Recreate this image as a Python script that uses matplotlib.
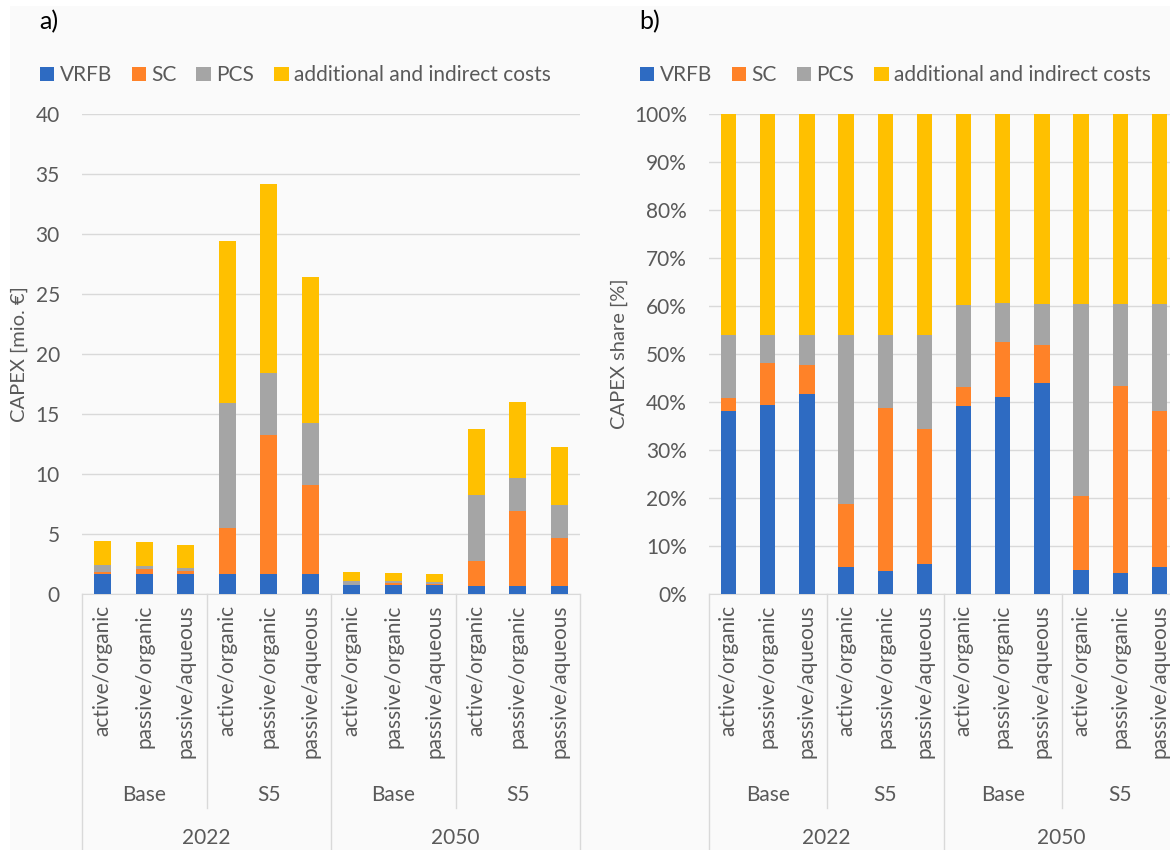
import numpy as np
import matplotlib
matplotlib.use("Agg")
import matplotlib.pyplot as plt
from matplotlib.patches import Patch, Rectangle

plt.rcParams['font.family'] = ['Lato', 'DejaVu Sans']

# CAPEX breakdown in mio. EUR, one entry per configuration
years = ['2022', '2050']
scenarios = ['Base', 'S5']
configs = ['active/organic', 'passive/organic', 'passive/aqueous']

vrfb = [1.69, 1.69, 1.69, 1.66, 1.67, 1.66, 0.71, 0.72, 0.72, 0.70, 0.70, 0.69]
sc = [0.12, 0.38, 0.25, 3.88, 11.58, 7.42, 0.07, 0.20, 0.13, 2.09, 6.23, 3.99]
pcs = [0.59, 0.25, 0.25, 10.36, 5.19, 5.17, 0.31, 0.14, 0.14, 5.50, 2.73, 2.74]
additional = [2.04, 1.98, 1.87, 13.55, 15.70, 12.14, 0.72, 0.69, 0.65, 5.43, 6.34, 4.86]

series_names = ['VRFB', 'SC', 'PCS', 'additional and indirect costs']
colors = ['#2E6BC2', '#FF8228', '#A5A5A5', '#FFC000']

TXT = '#595959'
GRID = '#D9D9D9'
BG = '#FAFAFA'
W, H = 1170, 850

fig = plt.figure(figsize=(W / 100, H / 100), dpi=100)
fig.patch.set_facecolor('white')
fig.patches.append(Rectangle((10 / W, 0), 1, 1 - 6 / H, transform=fig.transFigure,
                             facecolor=BG, edgecolor='none', zorder=-10))


def px_axes(x0, x1, y0, y1):
    # pixel box (top-left origin) -> figure fraction
    return fig.add_axes([x0 / W, 1 - y1 / H, (x1 - x0) / W, (y1 - y0) / H])


def draw_panel(ax, data, width, ymax, yticks, yfmt, ylabel, ylabel_x, leg_x):
    n = len(data[0])
    x = np.arange(n)
    bottom = np.zeros(n)
    for vals, col, name in zip(data, colors, series_names):
        ax.bar(x, vals, width, bottom=bottom, color=col, label=name, zorder=3)
        bottom += np.array(vals)
    ax.set_xlim(-0.5, n - 0.5)
    ax.set_ylim(0, ymax)
    ax.set_yticks(yticks)
    ax.set_yticklabels([yfmt(t) for t in yticks])
    ax.tick_params(axis='y', length=0, labelsize=15, colors=TXT, pad=16)
    ax.set_xticks([])
    ax.set_facecolor(BG)
    for s in ['top', 'right', 'left']:
        ax.spines[s].set_visible(False)
    ax.spines['bottom'].set_color(GRID)
    ax.yaxis.grid(True, color=GRID, lw=1, zorder=0)
    ax.set_ylabel(ylabel, fontsize=14.5, color=TXT)
    ax.yaxis.set_label_coords(ylabel_x, 0.5)

    # multi-level category axis
    tr = ax.get_xaxis_transform()
    h = 480.0

    def fy(py):
        return -(py - 594) / h

    for i in range(n):
        ax.text(x[i], fy(605), configs[i % 3], rotation=90, ha='center', va='top',
                fontsize=15, color=TXT, transform=tr)
    for k in range(4):
        ax.text(3 * k + 1, fy(795), scenarios[k % 2], ha='center', va='center',
                fontsize=15, color=TXT, transform=tr)
    for k in range(2):
        ax.text(6 * k + 2.5, fy(838), years[k], ha='center', va='center',
                fontsize=15, color=TXT, transform=tr)
    for b in [-0.5, 5.5, 11.5]:
        ax.plot([b, b], [0, fy(860)], color=GRID, lw=1, transform=tr, clip_on=False)
    for b in [2.5, 8.5]:
        ax.plot([b, b], [0, fy(808)], color=GRID, lw=1, transform=tr, clip_on=False)

    handles = [Patch(facecolor=c) for c in colors]
    leg = ax.legend(handles, series_names, loc='center left', bbox_to_anchor=(leg_x, 1.081),
                    ncol=4, frameon=False, fontsize=15, handlelength=0.7, handleheight=0.7,
                    handletextpad=0.25, columnspacing=0.95, borderaxespad=0, borderpad=0)
    for t in leg.get_texts():
        t.set_color(TXT)


data = [vrfb, sc, pcs, additional]

ax1 = px_axes(82, 580, 114, 594)
draw_panel(ax1, data, 0.4, 40, list(range(0, 41, 5)), lambda t: f'{t:g}',
           'CAPEX [mio. €]', -0.108, -0.085)

totals = np.sum(data, axis=0)
shares = [np.array(v) / totals for v in data]
ax2 = px_axes(709, 1179, 114, 594)
draw_panel(ax2, shares, 0.39, 1.0, list(np.linspace(0, 1, 11)), lambda t: f'{t:.0%}',
           'CAPEX share [%]', -0.172, -0.147)

fig.text(39 / W, 1 - 22 / H, 'a)', fontsize=18, color='black', va='center', ha='left')
fig.text(639 / W, 1 - 22 / H, 'b)', fontsize=18, color='black', va='center', ha='left')

fig.savefig('out.png', dpi=100, facecolor=fig.get_facecolor())
